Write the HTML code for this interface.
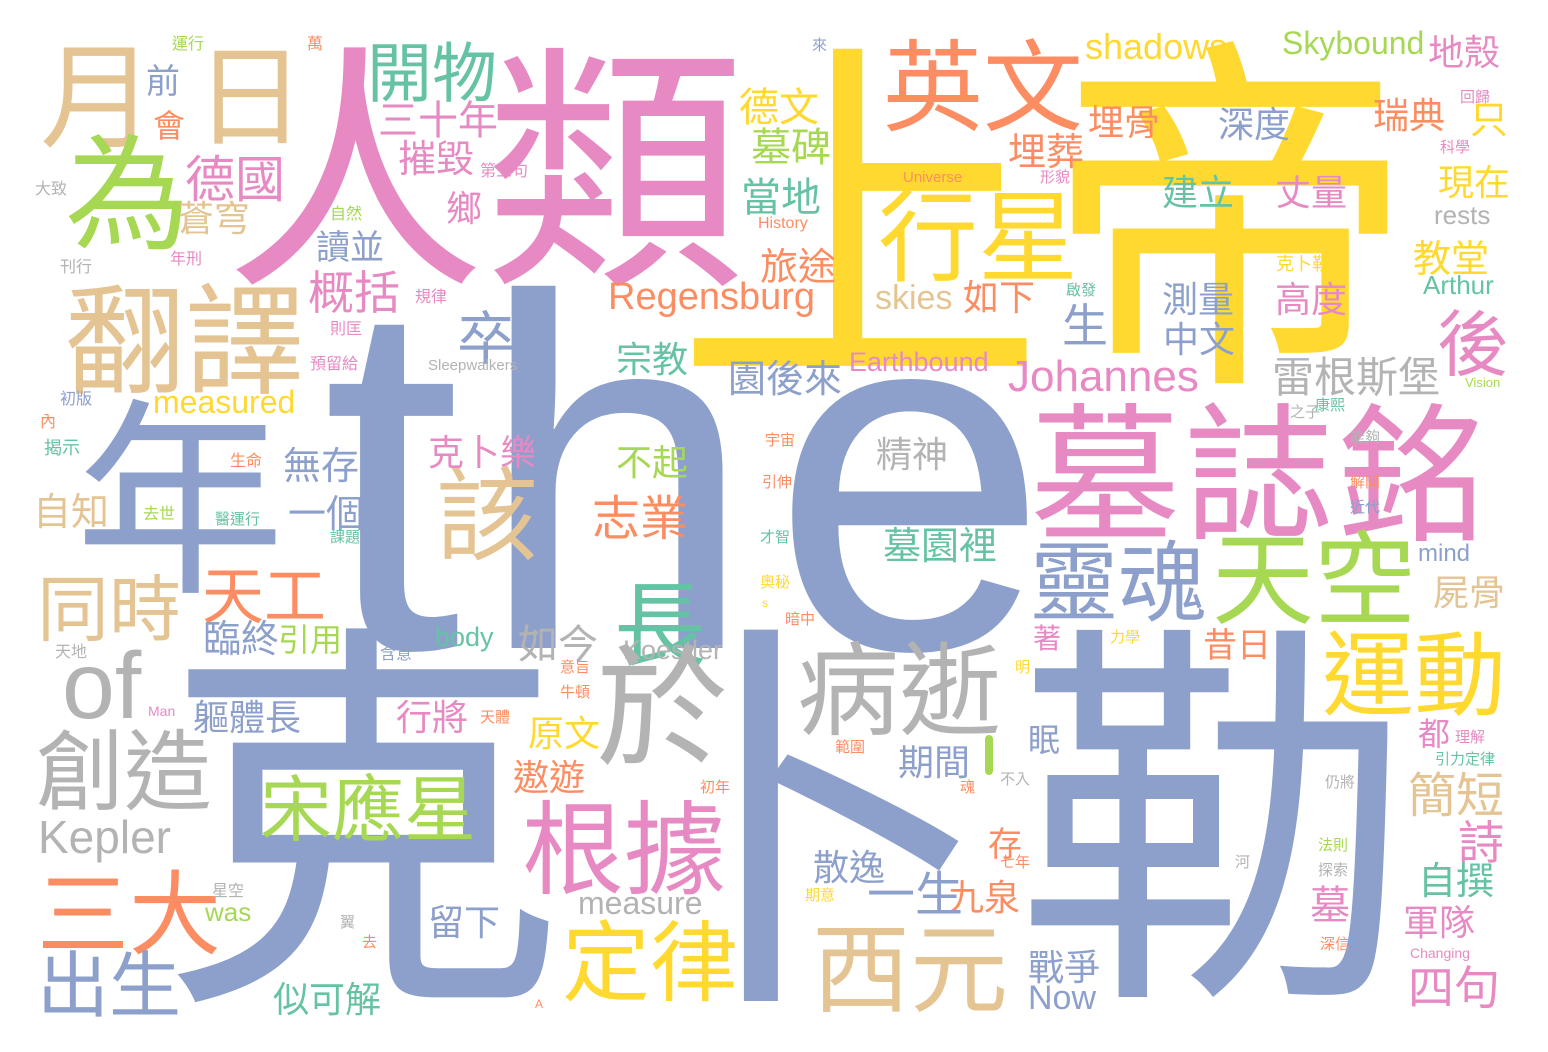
<!DOCTYPE html>
<html><head><meta charset="utf-8">
<style>
html,body{margin:0;padding:0;background:#fff;}
#cloud{position:relative;width:1548px;height:1052px;overflow:hidden;background:#fff;}
#cloud span{position:absolute;white-space:nowrap;line-height:1;font-family:"Liberation Sans","Noto Sans CJK TC",sans-serif;}
#cloud span.c{font-family:"Noto Sans CJK TC","Noto Sans CJK SC",sans-serif;}
.G{color:#66c2a5}.O{color:#fc8d62}.B{color:#8da0cb}.P{color:#e78ac3}.L{color:#a6d854}.Y{color:#ffd92f}.T{color:#e5c494}.R{color:#b3b3b3}
</style></head>
<body>
<div id="cloud">
<span class="B" style="font-size:500px;left:322px;top:225px;letter-spacing:16px">the</span>
<span class="c Y" style="font-size:370px;left:675px;top:8px">上帝</span>
<span class="c P" style="font-size:260px;left:225px;top:22px">人類</span>
<span class="c B" style="font-size:405px;left:160px;top:590px">克</span>
<span class="c B" style="font-size:405px;left:594px;top:590px">卜</span>
<span class="c B" style="font-size:400px;left:1015px;top:592px">勒</span>
<span class="c P" style="font-size:150px;left:1030px;top:390px;letter-spacing:4px">墓誌銘</span>
<span class="c B" style="font-size:210px;left:75px;top:380px">年</span>
<span class="c T" style="font-size:120px;left:65px;top:272px">翻譯</span>
<span class="c T" style="font-size:115px;left:40px;top:32px">月</span>
<span class="c T" style="font-size:110px;left:195px;top:33px">日</span>
<span class="c L" style="font-size:125px;left:65px;top:122px">為</span>
<span class="c G" style="font-size:65px;left:367px;top:36px">開物</span>
<span class="c P" style="font-size:40px;left:378px;top:97px">三十年</span>
<span class="c P" style="font-size:38px;left:398px;top:137px">摧毀</span>
<span class="c P" style="font-size:16px;left:480px;top:161px">第三句</span>
<span class="c P" style="font-size:50px;left:185px;top:151px">德國</span>
<span class="c T" style="font-size:36px;left:178px;top:198px">蒼穹</span>
<span class="c P" style="font-size:36px;left:446px;top:188px">鄉</span>
<span class="c R" style="font-size:16px;left:35px;top:179px">大致</span>
<span class="c O" style="font-size:32px;left:153px;top:108px">會</span>
<span class="c B" style="font-size:34px;left:146px;top:62px">前</span>
<span class="c L" style="font-size:16px;left:172px;top:34px">運行</span>
<span class="c O" style="font-size:16px;left:307px;top:34px">萬</span>
<span class="c L" style="font-size:16px;left:330px;top:204px">自然</span>
<span class="c B" style="font-size:34px;left:316px;top:228px">讀並</span>
<span class="c P" style="font-size:16px;left:170px;top:249px">年刑</span>
<span class="c R" style="font-size:16px;left:60px;top:257px">刊行</span>
<span class="c P" style="font-size:46px;left:308px;top:267px">概括</span>
<span class="c P" style="font-size:16px;left:415px;top:287px">規律</span>
<span class="c P" style="font-size:16px;left:330px;top:319px">則匡</span>
<span class="c P" style="font-size:16px;left:310px;top:354px">預留給</span>
<span class="c B" style="font-size:58px;left:457px;top:305px">卒</span>
<span class="c G" style="font-size:36px;left:616px;top:339px">宗教</span>
<span class="c O" style="font-size:100px;left:883px;top:30px">英文</span>
<span class="c Y" style="font-size:40px;left:739px;top:84px">德文</span>
<span class="c L" style="font-size:40px;left:751px;top:124px">墓碑</span>
<span class="c G" style="font-size:40px;left:741px;top:174px">當地</span>
<span class="c O" style="font-size:38px;left:760px;top:245px">旅途</span>
<span class="c O" style="font-size:36px;left:1088px;top:102px">埋骨</span>
<span class="c B" style="font-size:36px;left:1218px;top:104px">深度</span>
<span class="c O" style="font-size:36px;left:1373px;top:95px">瑞典</span>
<span class="c O" style="font-size:38px;left:1008px;top:130px">埋葬</span>
<span class="c P" style="font-size:15px;left:1040px;top:169px">形貌</span>
<span class="c Y" style="font-size:100px;left:878px;top:180px">行星</span>
<span class="c G" style="font-size:36px;left:1162px;top:172px">建立</span>
<span class="c P" style="font-size:36px;left:1275px;top:172px">丈量</span>
<span class="c Y" style="font-size:18px;left:1276px;top:254px">克卜勒本</span>
<span class="c B" style="font-size:36px;left:1162px;top:279px">測量</span>
<span class="c P" style="font-size:36px;left:1275px;top:279px">高度</span>
<span class="c O" style="font-size:36px;left:963px;top:277px">如下</span>
<span class="c G" style="font-size:15px;left:1066px;top:282px">啟發</span>
<span class="c B" style="font-size:46px;left:1062px;top:300px">生</span>
<span class="c B" style="font-size:36px;left:1163px;top:319px">中文</span>
<span class="c R" style="font-size:42px;left:1272px;top:354px">雷根斯堡</span>
<span class="c B" style="font-size:38px;left:728px;top:357px">園後來</span>
<span class="c B" style="font-size:15px;left:812px;top:37px">來</span>
<span class="c P" style="font-size:36px;left:1428px;top:32px">地殼</span>
<span class="c Y" style="font-size:38px;left:1470px;top:98px">只</span>
<span class="c P" style="font-size:15px;left:1440px;top:139px">科學</span>
<span class="c P" style="font-size:15px;left:1460px;top:89px">回歸</span>
<span class="c Y" style="font-size:36px;left:1438px;top:162px">現在</span>
<span class="c Y" style="font-size:38px;left:1413px;top:237px">教堂</span>
<span class="c P" style="font-size:72px;left:1437px;top:303px">後</span>
<span class="c R" style="font-size:15px;left:1290px;top:404px">之子</span>
<span class="c G" style="font-size:15px;left:1315px;top:397px">康熙</span>
<span class="c R" style="font-size:15px;left:1350px;top:429px">能夠</span>
<span class="c O" style="font-size:15px;left:1350px;top:474px">解開</span>
<span class="c B" style="font-size:15px;left:1350px;top:499px">近代</span>
<span class="c T" style="font-size:36px;left:1433px;top:572px">屍骨</span>
<span class="c B" style="font-size:88px;left:1030px;top:533px">靈魂</span>
<span class="c L" style="font-size:102px;left:1212px;top:522px">天空</span>
<span class="c Y" style="font-size:92px;left:1322px;top:623px">運動</span>
<span class="c O" style="font-size:34px;left:1203px;top:626px">昔日</span>
<span class="c P" style="font-size:28px;left:1033px;top:623px">著</span>
<span class="c Y" style="font-size:15px;left:1015px;top:659px">明</span>
<span class="c Y" style="font-size:15px;left:1110px;top:629px">力學</span>
<span class="c P" style="font-size:32px;left:1418px;top:716px">都</span>
<span class="c P" style="font-size:15px;left:1455px;top:729px">理解</span>
<span class="c G" style="font-size:15px;left:1435px;top:751px">引力定律</span>
<span class="c T" style="font-size:48px;left:1408px;top:767px">簡短</span>
<span class="c R" style="font-size:15px;left:1325px;top:774px">仍將</span>
<span class="c P" style="font-size:46px;left:1458px;top:817px">詩</span>
<span class="c G" style="font-size:38px;left:1418px;top:859px">自撰</span>
<span class="c P" style="font-size:40px;left:1310px;top:882px">墓</span>
<span class="c P" style="font-size:36px;left:1403px;top:902px">軍隊</span>
<span class="c P" style="font-size:46px;left:1408px;top:962px">四句</span>
<span class="c L" style="font-size:15px;left:1318px;top:837px">法則</span>
<span class="c R" style="font-size:15px;left:1318px;top:862px">探索</span>
<span class="c O" style="font-size:15px;left:1320px;top:936px">深信</span>
<span class="c R" style="font-size:15px;left:1235px;top:854px">河</span>
<span class="c R" style="font-size:102px;left:797px;top:633px">病逝</span>
<span class="c R" style="font-size:36px;left:876px;top:434px">精神</span>
<span class="c G" style="font-size:38px;left:883px;top:524px">墓園裡</span>
<span class="c B" style="font-size:36px;left:898px;top:742px">期間</span>
<span class="c B" style="font-size:32px;left:1028px;top:722px">眠</span>
<span class="c O" style="font-size:34px;left:988px;top:825px">存</span>
<span class="c O" style="font-size:15px;left:1000px;top:854px">七年</span>
<span class="c O" style="font-size:36px;left:948px;top:877px">九泉</span>
<span class="c B" style="font-size:48px;left:867px;top:866px">一生</span>
<span class="c B" style="font-size:36px;left:813px;top:847px">散逸</span>
<span class="c B" style="font-size:36px;left:1028px;top:947px">戰爭</span>
<span class="c T" style="font-size:98px;left:812px;top:913px">西元</span>
<span class="c Y" style="font-size:15px;left:805px;top:887px">期意</span>
<span class="c O" style="font-size:15px;left:835px;top:739px">範圍</span>
<span class="c O" style="font-size:15px;left:960px;top:779px">魂</span>
<span class="c R" style="font-size:15px;left:1000px;top:771px">不入</span>
<span class="c Y" style="font-size:88px;left:562px;top:913px">定律</span>
<span class="c P" style="font-size:102px;left:522px;top:792px">根據</span>
<span class="c Y" style="font-size:36px;left:528px;top:713px">原文</span>
<span class="c O" style="font-size:36px;left:513px;top:757px">遨遊</span>
<span class="c P" style="font-size:36px;left:396px;top:697px">行將</span>
<span class="c O" style="font-size:15px;left:480px;top:709px">天體</span>
<span class="c R" style="font-size:40px;left:518px;top:621px">如今</span>
<span class="c G" style="font-size:92px;left:614px;top:573px">長</span>
<span class="c R" style="font-size:132px;left:596px;top:633px">於</span>
<span class="c L" style="font-size:36px;left:616px;top:442px">不起</span>
<span class="c O" style="font-size:48px;left:592px;top:490px">志業</span>
<span class="c T" style="font-size:102px;left:436px;top:458px">該</span>
<span class="c O" style="font-size:15px;left:765px;top:432px">宇宙</span>
<span class="c O" style="font-size:15px;left:762px;top:474px">引伸</span>
<span class="c G" style="font-size:15px;left:760px;top:529px">才智</span>
<span class="c Y" style="font-size:15px;left:760px;top:574px">奧秘</span>
<span class="c O" style="font-size:15px;left:785px;top:611px">暗中</span>
<span class="c O" style="font-size:15px;left:560px;top:684px">牛頓</span>
<span class="c O" style="font-size:15px;left:560px;top:659px">意旨</span>
<span class="c O" style="font-size:15px;left:700px;top:779px">初年</span>
<span class="c B" style="font-size:38px;left:283px;top:444px">無存</span>
<span class="c P" style="font-size:36px;left:428px;top:432px">克卜樂</span>
<span class="c G" style="font-size:18px;left:44px;top:438px">揭示</span>
<span class="c O" style="font-size:16px;left:230px;top:451px">生命</span>
<span class="c O" style="font-size:16px;left:40px;top:412px">內</span>
<span class="c B" style="font-size:16px;left:60px;top:389px">初版</span>
<span class="c L" style="font-size:16px;left:143px;top:504px">去世</span>
<span class="c G" style="font-size:15px;left:215px;top:511px">醫運行</span>
<span class="c B" style="font-size:38px;left:288px;top:492px">一個</span>
<span class="c G" style="font-size:15px;left:330px;top:529px">課題</span>
<span class="c T" style="font-size:38px;left:33px;top:490px">自知</span>
<span class="c O" style="font-size:62px;left:202px;top:560px">天工</span>
<span class="c T" style="font-size:72px;left:37px;top:568px">同時</span>
<span class="c B" style="font-size:38px;left:203px;top:617px">臨終</span>
<span class="c L" style="font-size:32px;left:278px;top:622px">引用</span>
<span class="c R" style="font-size:16px;left:55px;top:642px">天地</span>
<span class="c B" style="font-size:16px;left:380px;top:644px">含意</span>
<span class="c R" style="font-size:88px;left:36px;top:722px">創造</span>
<span class="c B" style="font-size:36px;left:193px;top:697px">軀體長</span>
<span class="c L" style="font-size:72px;left:260px;top:768px">宋應星</span>
<span class="c O" style="font-size:92px;left:37px;top:862px">三大</span>
<span class="c B" style="font-size:72px;left:37px;top:944px">出生</span>
<span class="c R" style="font-size:16px;left:212px;top:881px">星空</span>
<span class="c B" style="font-size:36px;left:428px;top:902px">留下</span>
<span class="c G" style="font-size:36px;left:273px;top:979px">似可解</span>
<span class="c O" style="font-size:15px;left:362px;top:934px">去</span>
<span class="c R" style="font-size:15px;left:340px;top:914px">翼</span>
<span class="Y" style="font-size:36px;left:1085px;top:29px">shadows</span>
<span class="L" style="font-size:32px;left:1282px;top:27px">Skybound</span>
<span class="O" style="font-size:16px;left:758px;top:216px">History</span>
<span class="O" style="font-size:38px;left:608px;top:278px">Regensburg</span>
<span class="O" style="font-size:15px;left:903px;top:170px">Universe</span>
<span class="T" style="font-size:34px;left:875px;top:281px">skies</span>
<span class="P" style="font-size:27px;left:849px;top:349px">Earthbound</span>
<span class="P" style="font-size:44px;left:1008px;top:355px">Johannes</span>
<span class="R" style="font-size:15px;left:428px;top:358px">Sleepwalkers</span>
<span class="Y" style="font-size:32px;left:153px;top:386px">measured</span>
<span class="R" style="font-size:26px;left:1434px;top:202px">rests</span>
<span class="G" style="font-size:26px;left:1423px;top:272px">Arthur</span>
<span class="L" style="font-size:13px;left:1465px;top:376px">Vision</span>
<span class="B" style="font-size:24px;left:1418px;top:542px">mind</span>
<span class="R" style="font-size:27px;left:623px;top:637px">Koestler</span>
<span class="G" style="font-size:27px;left:435px;top:624px">body</span>
<span class="P" style="font-size:14px;left:148px;top:704px">Man</span>
<span class="R" style="font-size:46px;left:38px;top:814px">Kepler</span>
<span class="L" style="font-size:26px;left:205px;top:899px">was</span>
<span class="R" style="font-size:32px;left:578px;top:887px">measure</span>
<span class="B" style="font-size:34px;left:1028px;top:981px">Now</span>
<span class="O" style="font-size:12px;left:535px;top:998px">A</span>
<span class="Y" style="font-size:12px;left:762px;top:597px">s</span>
<span class="P" style="font-size:14px;left:1410px;top:946px">Changing</span>
<span class="R" style="font-size:95px;left:62px;top:639px">of</span>
<div style="position:absolute;left:985px;top:735px;width:8px;height:40px;border-radius:4px;background:#a6d854"></div>
</div>
</body></html>
